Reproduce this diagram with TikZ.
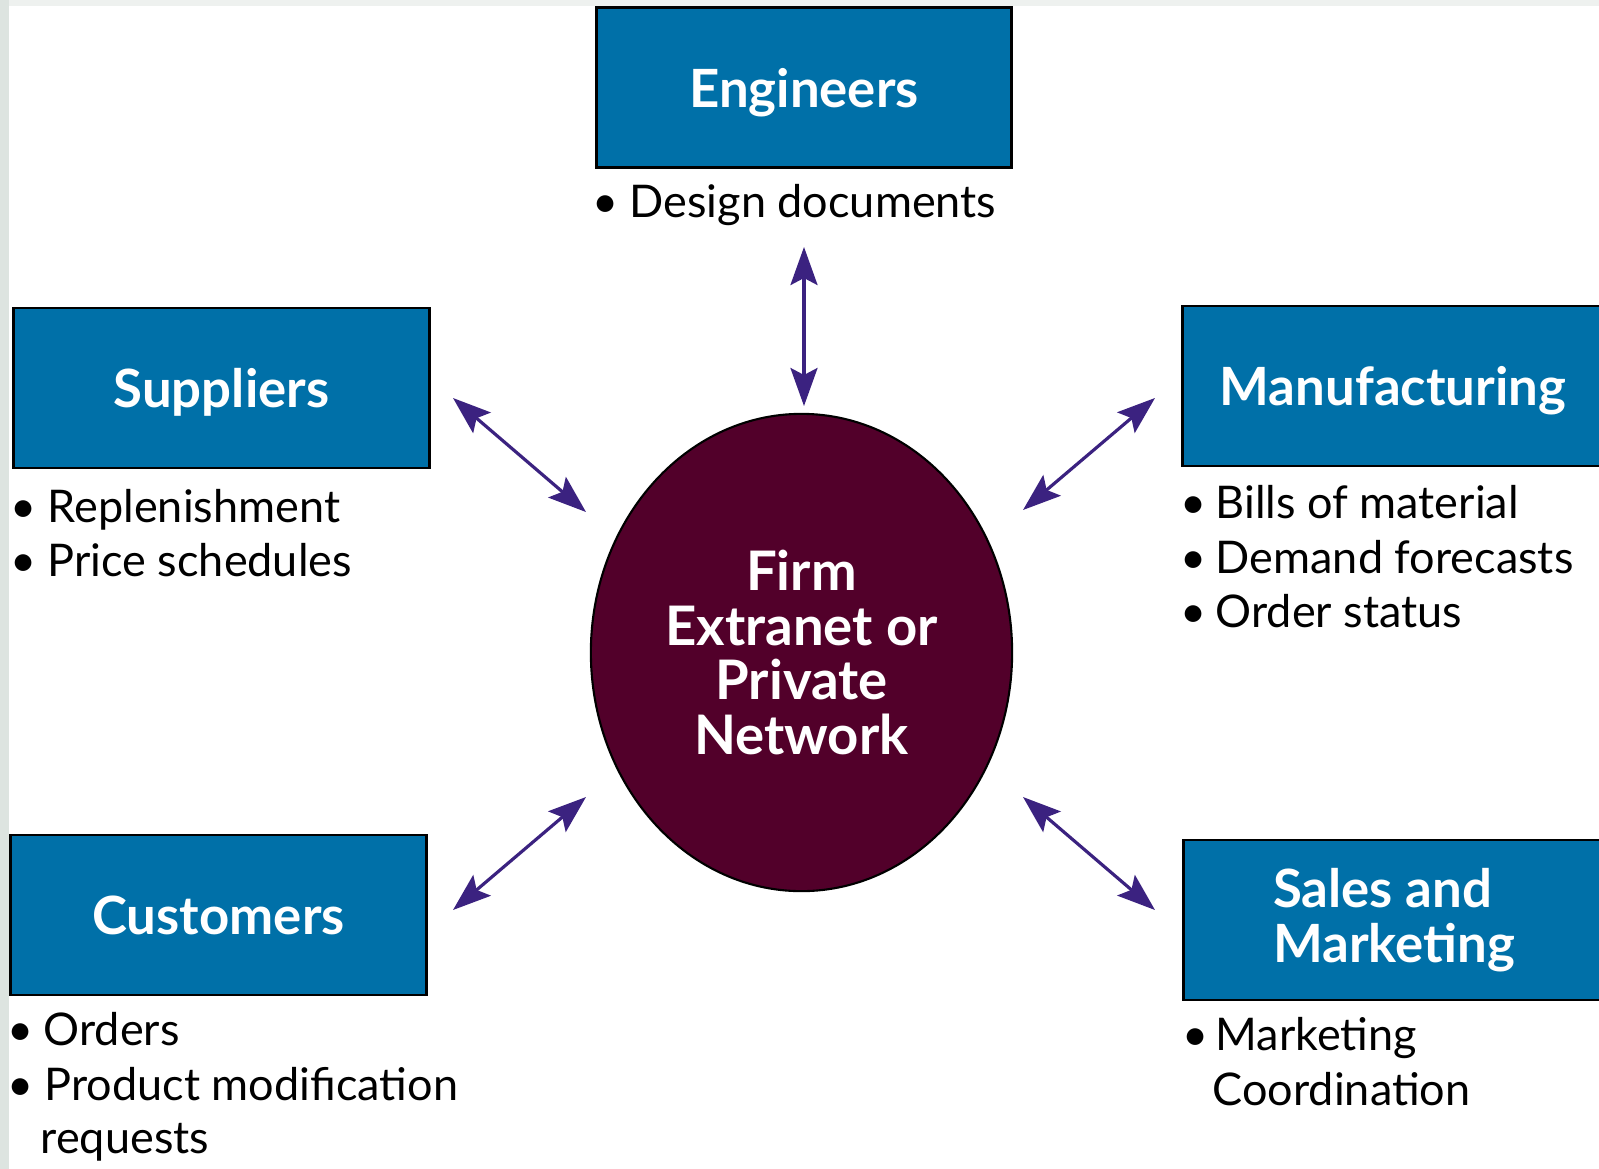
\documentclass[tikz,border=0pt]{standalone}
\usepackage{fontspec}
\setmainfont{Lato}
\usetikzlibrary{arrows.meta,shapes.geometric}
\definecolor{boxblue}{HTML}{0070A8}
\definecolor{netmaroon}{HTML}{52002A}
\definecolor{arrowc}{HTML}{3B2280}
\definecolor{stripc}{HTML}{DDE4E0}
\definecolor{topc}{HTML}{EEF1EF}
\newcommand{\bul}[1]{\makebox[#1][l]{•}}
\begin{document}
\begin{tikzpicture}[x=0.01cm,y=-0.01cm,
  partybox/.style={draw=black, line width=0.8pt, fill=boxblue, text=white,
    font=\fontsize{15}{15.6}\selectfont\bfseries, align=center, inner sep=0pt,
    minimum width=4.15cm, minimum height=1.6cm},
  oneline/.style={text depth=0pt},
  hub/.style={ellipse, draw=black, line width=0.6pt, fill=netmaroon, text=white,
    font=\fontsize{15.5}{15.6}\selectfont\bfseries, align=center, inner sep=0pt,
    minimum width=4.21cm, minimum height=4.77cm},
  item/.style={anchor=base west, inner sep=0pt, font=\fontsize{12.8}{14}\selectfont, text=black},
  link/.style={draw=arrowc, line width=0.9pt,
    {Stealth[length=0.38cm,width=0.27cm,inset=0.07cm]}-{Stealth[length=0.38cm,width=0.27cm,inset=0.07cm]}}
]
\useasboundingbox (0,0) rectangle (1599,1169);
\fill[white] (0,0) rectangle (1599,1169);
\fill[topc] (0,0) rectangle (1599,6);
\fill[stripc] (0,0) rectangle (9,1169);

% boxes
\node[partybox, oneline] (eng) at (804,87.5) {Engineers};
\node[partybox, oneline] (sup) at (221.5,388) {Suppliers};
\node[partybox, oneline, minimum width=4.2cm] (man) at (1393,386) {Manufacturing};
\node[partybox, oneline] (cus) at (218.5,915) {Customers};
\node[partybox, minimum width=4.2cm, align=left] (sal) at (1394,920) {Sales and\\Marketing};

% hub
\node[hub] (net) at (801.5,652.5) {Firm\\Extranet or\\Private\\Network};

% lists
\node[item] (engA) at (592,217) {\bul{0.37cm}Design documents};
\node[item] (supA) at (10,522) {\bul{0.37cm}Replenishment};
\node[item] (supB) at (10,576) {\bul{0.37cm}Price schedules};
\node[item] (manA) at (1180,518) {\bul{0.35cm}Bills of material};
\node[item] (manB) at (1180,573) {\bul{0.35cm}Demand forecasts};
\node[item] (manC) at (1180,627) {\bul{0.35cm}Order status};
\node[item] (cusA) at (7,1045) {\bul{0.36cm}Orders};
\node[item] (cusB) at (7,1100) {\bul{0.37cm}Product modification};
\node[item] (cusC) at (40,1153) {requests};
\node[item] (salA) at (1182,1050) {\bul{0.33cm}Marketing};
\node[item] (salB) at (1212,1105) {Coordination};

% arrow ends
\coordinate (e1) at (804,247);  \coordinate (e2) at (804,406);
\coordinate (s1) at (453,398);  \coordinate (s2) at (586,512);
\coordinate (m1) at (1155,398); \coordinate (m2) at (1023,510);
\coordinate (c1) at (586,797);  \coordinate (c2) at (453,910);
\coordinate (k1) at (1023,797); \coordinate (k2) at (1155,910);

\draw[link] (e1) -- (e2);
\draw[link] (s1) -- (s2);
\draw[link] (m1) -- (m2);
\draw[link] (c1) -- (c2);
\draw[link] (k1) -- (k2);
\end{tikzpicture}
\end{document}
